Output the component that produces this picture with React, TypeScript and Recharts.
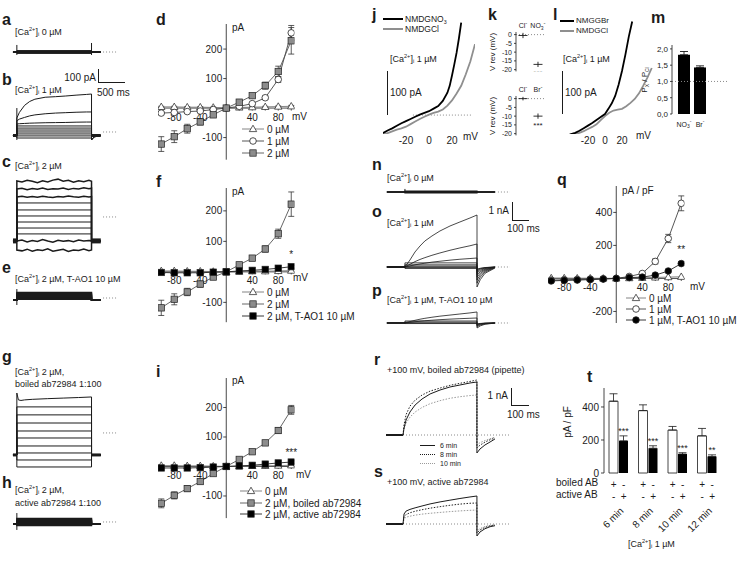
import React from 'react'
import {
  LineChart,
  Line,
  XAxis,
  YAxis,
  ReferenceLine,
  ReferenceDot,
  ErrorBar,
  BarChart,
  Bar,
  LabelList,
} from 'recharts'

const INK = '#1b1b1b'
const FONT = '"Liberation Sans", Arial, Helvetica, sans-serif'

// ---------- I-V curves (mV / pA) ----------
const mV = [-100, -80, -60, -40, -20, 0, 20, 40, 60, 80, 100]

const d0 = [4, 4, 3, 3, 2, 0, 2, 3, 4, 5, 6]
const d0Err = [2, 2, 2, 2, 1, 0, 1, 2, 2, 2, 3]
const d1 = [-17, -15, -12, -10, -5, 0, 6, 15, 35, 97, 255]
const d1Err = [4, 4, 3, 3, 2, 0, 2, 4, 6, 10, 25]
const d2 = [-122, -97, -70, -47, -23, 0, 20, 42, 76, 124, 228]
const d2Err = [25, 20, 15, 10, 6, 0, 4, 6, 12, 18, 45]

const f0 = [3, 3, 2, 2, 1, 0, 1, 2, 2, 3, 4]
const f2 = [-118, -90, -66, -40, -17, 0, 23, 45, 75, 125, 222]
const f2Err = [25, 18, 12, 10, 6, 0, 4, 6, 10, 15, 40]
const fTao = [-2, -3, -3, -3, -1, 0, 3, 5, 8, 12, 17]
const fTaoErr = [3, 3, 3, 3, 2, 0, 2, 2, 3, 4, 5]

const i0 = [3, 3, 2, 2, 1, 0, 1, 2, 2, 3, 4]
const iBoiled = [-125, -98, -75, -51, -24, 0, 24, 50, 80, 122, 192]
const iBoiledErr = [15, 12, 10, 8, 5, 0, 4, 5, 8, 10, 15]
const iActive = [-5, -5, -5, -4, -2, 0, 2, 4, 8, 12, 15]
const iActiveErr = [3, 3, 3, 2, 2, 0, 2, 2, 3, 3, 4]

// q is in pA / pF
const q0 = [2, 2, 1, 1, 0, 0, 2, 4, 6, 8, 10]
const q1 = [-10, -8, -6, -4, -2, 0, 12, 30, 103, 242, 455]
const q1Err = [4, 4, 3, 3, 2, 0, 4, 8, 15, 25, 45]
const qTao = [-15, -12, -10, -7, -4, 0, 5, 8, 20, 45, 90]
const qTaoErr = [3, 3, 3, 3, 2, 0, 3, 4, 6, 8, 12]

// ---------- ramps j / l (mV, pA) ----------
const jNo3Mv = [-40, -36, -32, -28, -24, -20, -16, -12, -8, -4, 0, 4, 8, 12, 16, 18, 20, 22, 24, 26, 28]
const jNo3Pa = [-42, -36, -31, -25, -19, -14, -9, -4, 1, 5, 9, 15, 21, 33, 52, 68, 92, 118, 145, 178, 215]
const jClMv = [-40, -36, -32, -28, -24, -20, -16, -12, -8, -4, 0, 4, 8, 12, 16, 20, 24, 28, 32, 36, 40]
const jClPa = [-46, -42, -38, -34, -31, -27, -21, -15, -9, -4, 1, 5, 8, 13, 22, 34, 50, 68, 95, 125, 165]
const lBrMv = [-44, -40, -35, -30, -25, -20, -15, -10, -5, 0, 4, 8, 12, 16, 20, 24, 28, 32]
const lBrPa = [-50, -47, -44, -39, -33, -27, -21, -14, -7, 0, 12, 25, 42, 68, 100, 138, 180, 215]
const lClMv = [-36, -30, -25, -20, -15, -10, -5, 0, 5, 10, 15, 20, 25, 30, 35, 40, 45, 50, 55]
const lClPa = [-46, -44, -40, -35, -30, -24, -14, -5, 3, 8, 10, 12, 18, 26, 35, 48, 66, 85, 107]

// ---------- k: reversal potentials ----------
const kTopIons = ['Cl', 'NO3']
const kTopVrev = [-0.5, -17]
const kTopErr = [1.5, 1.5]
const kBotIons = ['Cl', 'Br']
const kBotVrev = [0, -10]
const kBotErr = [1, 1.5]
const kStars = ['', '***']

// ---------- m: permeability ratios ----------
const mIons = ['NO3', 'Br']
const mRatio = [1.82, 1.43]
const mRatioErr = [0.1, 0.05]

// ---------- t: current density vs time ----------
const tTimes = ['6 min', '8 min', '10 min', '12 min']
const tBoiled = [435, 378, 260, 225]
const tBoiledErr = [45, 35, 22, 45]
const tActive = [195, 150, 115, 100]
const tActiveErr = [30, 15, 8, 10]
const tStars = ['***', '***', '***', '**']

// ---------- current traces, left column (ms, pA) ----------
const L_PRE = -75
const L_OFF = 1450
const L_POST = 1630
const L_DOTS = [1674, 1965]
const L_XDOM = [-230, 2100]

const aLevels = [10, 6, 3, 0, -3, -6, -10]
const aOn = [-21, 50]
const aOff = [-21, 64]

const bHold = -25
const bGrid = [0, 50, 150, 250, 350, 550, 750, 950, 1150, 1350, 1450]
const b1 = [100, 140, 190, 218, 234, 248, 252, 257, 263, 268, 271]
const b2 = [80, 92, 104, 115, 122, 130, 135, 138, 141, 143, 143]
const b3 = [57, 59, 61, 63, 64, 66, 67, 68, 70, 71, 71]
const bFlat = [43, 28, 14, 0, -14, -28, -43]
const bTailT = [1450, 1500, 1630]
const bTail = [-57, -35, -25]
const bOn = [-57, 171]

const cHold = -171
const cGrid = [0, 100, 200, 300, 400, 500, 600, 700, 800, 900, 1000, 1100, 1200, 1300, 1400, 1450]
const c1 = [257, 250, 262, 255, 245, 258, 250, 263, 270, 255, 262, 248, 258, 252, 262, 255]
const c2 = [200, 205, 195, 203, 198, 207, 196, 202, 199, 206, 197, 204, 200, 208, 201, 205]
const c3 = [143, 147, 140, 146, 141, 148, 143, 139, 146, 142, 149, 144, 141, 147, 143, 146]
const c10 = [-171, -165, -178, -168, -175, -162, -172, -180, -166, -174, -169, -177, -164, -172, -168, -170]
const c11 = [-236, -242, -230, -245, -234, -240, -228, -244, -237, -231, -246, -236, -240, -229, -241, -236]
const cFlat = [100, 50, 7, -36, -79, -121]

const eHold = -14
const eLevels = [40, 32, 24, 16, 9, 3, -3, -9]
const eOn = [-57, 64]

const gHold = -157
const gGrid = [0, 30, 80, 150, 300, 600, 900, 1200, 1450]
const g1 = [285, 236, 232, 236, 240, 245, 249, 253, 257]
const gFlat = [186, 129, 71, 14, -36, -93, -143, -193, -243]

const hHold = -14
const hLevels = [26, 18, 10, 3, -4, -11, -18, -25]
const hOn = [-57, 64]

// ---------- current traces n / o / p (ms, pA) ----------
const R_PRE = -115
const R_OFF = 459
const R_POST = 573
const R_DOTS = [573, 669]
const R_XDOM = [-127, 701]

const nLevels = [50, 25, 0, -25, -50]
const nOn = [-50, 170]

const oGrid = [0, 32, 64, 96, 127, 172, 223, 287, 350, 414, 459]
const o1 = [0, 389, 834, 1168, 1446, 1724, 2002, 2280, 2502, 2724, 2891]
const o2 = [0, 150, 300, 420, 520, 650, 780, 930, 1060, 1180, 1279]
const o3 = [0, 60, 120, 170, 210, 270, 320, 380, 430, 470, 500]
const oFlat = [230, 120, 50, 0, -40, -80]
const oTailT = [459, 480, 510, 573]
const o1Tail = [-1112, -700, -350, -60]
const o2Tail = [-900, -560, -280, -40]
const o3Tail = [-720, -440, -220, -30]
const oFlatTails = [
  [-560, -340, -170, -20],
  [-430, -260, -130, -15],
  [-320, -190, -90, -10],
  [-230, -130, -60, -5],
  [-160, -90, -40, 0],
  [-120, -70, -30, 0],
]

const p1 = [0, 80, 150, 210, 260, 320, 380, 440, 500, 560, 612]
const p2 = [0, 35, 70, 100, 125, 155, 185, 215, 240, 262, 278]
const pFlat = [111, 50, 0, -30]
const p1Tail = [-278, -160, -70, -5]
const p2Tail = [-200, -110, -50, 0]
const pFlatTails = [
  [-150, -80, -30, 0],
  [-100, -50, -20, 0],
  [-70, -35, -10, 0],
  [-50, -25, -10, 0],
]

// ---------- r / s (ms, pA) ----------
const S_PRE = -100
const S_DOTS = [0, 629]
const S_XDOM = [-106, 659]
const sGrid = [0, 6, 18, 41, 71, 112, 159, 218, 276, 335, 394, 435]
const sTailT = [435, 453, 482, 512, 541]
const r6 = [0, 412, 882, 1353, 1764, 2117, 2411, 2646, 2822, 2940, 3058, 3116]
const r8 = [0, 600, 1200, 1700, 2050, 2350, 2580, 2760, 2920, 3040, 3150, 3234]
const r10 = [0, 350, 700, 1050, 1350, 1620, 1840, 2020, 2160, 2250, 2320, 2352]
const r6Tail = [-1058, -823, -588, -412, -235]
const r8Tail = [-760, -600, -420, -280, -180]
const r10Tail = [-590, -450, -330, -220, -120]
const s6 = [0, 588, 760, 860, 950, 1060, 1180, 1300, 1400, 1500, 1590, 1646]
const s8 = [0, 420, 560, 660, 750, 840, 930, 1020, 1100, 1170, 1220, 1235]
const s10 = [0, 300, 400, 460, 520, 580, 630, 680, 730, 770, 805, 823]
const s6Tail = [-705, -470, -280, -160, -100]
const s8Tail = [-530, -350, -200, -110, -60]
const s10Tail = [-410, -270, -150, -80, -40]

// ---------------------------------------------------------------------------

type Pt = number[]
type Trace = { pts: Pt[]; color?: string; dash?: string; w?: number }

const stepPts = (hold: number, level: number, pre: number, off: number, post: number): Pt[] => [
  [pre, hold],
  [0, hold],
  [0, level],
  [off, level],
  [off, hold],
  [post, hold],
]

const gridPts = (hold: number, pre: number, grid: number[], vals: number[], tailT: number[], tail: number[]): Pt[] => [
  [pre, hold],
  [0, hold],
  ...grid.map((t, i) => [t, vals[i]]),
  ...tailT.map((t, i) => [t, tail[i]]),
]

const vline = (t: number, span: number[]): Trace => ({ pts: [[t, span[0]], [t, span[1]]] })

function T({ x, y, s = 9, a = 'left', b = false, children, c = INK, style = {} }: any) {
  const tx = a === 'left' ? '0' : a === 'center' ? '-50%' : '-100%'
  return (
    <div
      style={{
        position: 'absolute',
        left: x,
        top: y,
        transform: `translate(${tx}, -50%)`,
        fontSize: s,
        fontWeight: b ? 700 : 400,
        color: c,
        whiteSpace: 'nowrap',
        lineHeight: 1,
        ...style,
      }}
    >
      {children}
    </div>
  )
}

const supStyle = { fontSize: '0.62em', verticalAlign: '0.55em', lineHeight: 0 }
const subStyle = { fontSize: '0.62em', verticalAlign: '-0.35em', lineHeight: 0 }
const Ca = () => (
  <>
    [Ca<span style={supStyle}>2+</span>]<span style={subStyle}>i</span>
  </>
)

function ScaleBar({ x, y, w, h }: any) {
  return (
    <div
      style={{
        position: 'absolute',
        left: x,
        top: y,
        width: w,
        height: h,
        borderLeft: `1px solid ${INK}`,
        borderBottom: `1px solid ${INK}`,
      }}
    />
  )
}

function HLine({ x, y, w, color = INK, dash = false, lw = 1 }: any) {
  return (
    <div
      style={{
        position: 'absolute',
        left: x,
        top: y - lw / 2,
        width: w,
        height: 0,
        borderTop: `${lw}px ${dash ? 'dotted' : 'solid'} ${color}`,
      }}
    />
  )
}

// ---------- traces ----------
function TracePanel({ left, top, width, height, xDomain, yDomain, traces, dots }: any) {
  return (
    <div style={{ position: 'absolute', left, top }}>
      <LineChart width={width} height={height} margin={{ top: 0, right: 0, bottom: 0, left: 0 }}>
        <XAxis type="number" dataKey="t" domain={xDomain} hide allowDataOverflow />
        <YAxis type="number" domain={yDomain} hide allowDataOverflow />
        {dots && (
          <ReferenceLine
            segment={[
              { x: dots[0], y: 0 },
              { x: dots[1], y: 0 },
            ]}
            stroke="#8a8a8a"
            strokeDasharray="1 2"
          />
        )}
        {traces.map((tr: Trace, i: number) => (
          <Line
            key={i}
            data={tr.pts.map(([t, v]) => ({ t, v }))}
            dataKey="v"
            stroke={tr.color ?? INK}
            strokeWidth={tr.w ?? 1}
            strokeDasharray={tr.dash}
            dot={false}
            activeDot={false}
            isAnimationActive={false}
          />
        ))}
      </LineChart>
    </div>
  )
}

// ---------- I-V ----------
type Mk = 'tri' | 'circ' | 'sq'
function drawMarker(mk: Mk, fill: string, cx: number, cy: number, key: any) {
  if (cx == null || cy == null || isNaN(cx) || isNaN(cy)) return <g key={key} />
  if (mk === 'tri')
    return (
      <path
        key={key}
        d={`M${cx},${cy - 3.8}L${cx + 3.7},${cy + 2.6}L${cx - 3.7},${cy + 2.6}Z`}
        fill={fill}
        stroke="#333"
        strokeWidth={0.8}
      />
    )
  if (mk === 'circ') return <circle key={key} cx={cx} cy={cy} r={3.3} fill={fill} stroke="#222" strokeWidth={0.8} />
  return <rect key={key} x={cx - 3.2} y={cy - 3.2} width={6.4} height={6.4} fill={fill} stroke="#222" strokeWidth={0.7} />
}

type IVSeries = { vals: number[]; errs?: number[]; mk: Mk; fill: string; line: string }

function IVPanel({ left, top, height, yDomain, yTicks, series, star }: any) {
  const width = 136.5
  return (
    <div style={{ position: 'absolute', left, top }}>
      <LineChart width={width} height={height} margin={{ top: 0, right: 0, bottom: 0, left: 0 }}>
        <XAxis type="number" dataKey="mv" domain={[-105, 105]} hide allowDataOverflow />
        <YAxis type="number" domain={yDomain} hide allowDataOverflow />
        <ReferenceLine x={0} stroke={INK} strokeWidth={0.8} />
        <ReferenceLine y={0} stroke={INK} strokeWidth={0.8} />
        {mV
          .filter((v) => v !== 0)
          .map((v) => (
            <ReferenceDot
              key={'x' + v}
              x={v}
              y={0}
              shape={(p: any) => (
                <g>
                  <line x1={p.cx} x2={p.cx} y1={p.cy} y2={p.cy + 2.5} stroke={INK} strokeWidth={0.8} />
                  {Math.abs(v) % 40 === 0 && (
                    <text x={p.cx} y={p.cy + 9} textAnchor="middle" dominantBaseline="central" fontSize={10} fill={INK}>
                      {v}
                    </text>
                  )}
                </g>
              )}
            />
          ))}
        {yTicks.map((v: number) => (
          <ReferenceDot
            key={'y' + v}
            x={0}
            y={v}
            shape={(p: any) => (
              <g>
                <line x1={p.cx - 3} x2={p.cx} y1={p.cy} y2={p.cy} stroke={INK} strokeWidth={0.8} />
                <text x={p.cx - 4} y={p.cy} textAnchor="end" dominantBaseline="central" fontSize={10} fill={INK}>
                  {v}
                </text>
              </g>
            )}
          />
        ))}
        {series.map((s: IVSeries, k: number) => (
          <Line
            key={k}
            data={mV.map((m, j) => ({ mv: m, v: s.vals[j], e: s.errs ? s.errs[j] : 0 }))}
            dataKey="v"
            stroke={s.line}
            strokeWidth={0.9}
            isAnimationActive={false}
            activeDot={false}
            dot={(p: any) => drawMarker(s.mk, s.fill, p.cx, p.cy, p.index)}
          >
            {s.errs && <ErrorBar dataKey="e" width={3} stroke="#333" strokeWidth={0.8} />}
          </Line>
        ))}
        {star && (
          <ReferenceDot
            x={100}
            y={star.y}
            shape={(p: any) => (
              <text x={p.cx} y={p.cy - star.dy} textAnchor="middle" dominantBaseline="central" fontSize={10} fill={INK}>
                {star.text}
              </text>
            )}
          />
        )}
      </LineChart>
    </div>
  )
}

function LegendRow({ x, y, mk, fill, line, label, w = 22 }: any) {
  return (
    <div
      style={{
        position: 'absolute',
        left: x,
        top: y - 6,
        height: 12,
        display: 'flex',
        alignItems: 'center',
        fontSize: 10,
        color: INK,
        whiteSpace: 'nowrap',
      }}
    >
      <svg width={w} height={12}>
        <line x1={0} x2={w} y1={6} y2={6} stroke={line} strokeWidth={0.9} />
        {drawMarker(mk, fill, w / 2, 6, 0)}
      </svg>
      <span style={{ marginLeft: 3 }}>{label}</span>
    </div>
  )
}

const TRI: any = { mk: 'tri', fill: '#fff', line: '#777' }
const CIRC: any = { mk: 'circ', fill: '#fff', line: '#444' }
const SQG: any = { mk: 'sq', fill: '#8c8c8c', line: '#555' }
const SQB: any = { mk: 'sq', fill: '#000', line: '#222' }
const DOTB: any = { mk: 'circ', fill: '#000', line: '#222' }

// ---------- ramps ----------
function RampPanel({ left, top, width, xDomain, yDomain, curves, dots }: any) {
  return (
    <div style={{ position: 'absolute', left, top }}>
      <LineChart width={width} height={130} margin={{ top: 0, right: 0, bottom: 0, left: 0 }}>
        <XAxis
          type="number"
          dataKey="mv"
          domain={xDomain}
          allowDataOverflow
          ticks={[-20, 0, 20]}
          interval={0}
          axisLine={false}
          tickLine={false}
          tickSize={0}
          height={10}
          tick={(p: any) => (
            <text x={p.x} y={p.y + 4} textAnchor="middle" dominantBaseline="central" fontSize={10} fill={INK}>
              {p.payload.value}
            </text>
          )}
        />
        <YAxis type="number" domain={yDomain} hide allowDataOverflow />
        <ReferenceLine
          segment={[
            { x: dots[0], y: 0 },
            { x: dots[1], y: 0 },
          ]}
          stroke="#8a8a8a"
          strokeDasharray="1 2"
        />
        {curves.map((c: any, i: number) => (
          <Line
            key={i}
            data={c.mv.map((m: number, j: number) => ({ mv: m, v: c.pa[j] }))}
            dataKey="v"
            stroke={c.color}
            strokeWidth={1.8}
            dot={false}
            activeDot={false}
            isAnimationActive={false}
          />
        ))}
      </LineChart>
    </div>
  )
}

// ---------- k ----------
function KPanel({ top, ions, vrev, errs }: any) {
  const data = ions.map((ion: string, i: number) => ({ ion, v: vrev[i], e: errs[i], star: kStars[i] }))
  return (
    <div style={{ position: 'absolute', left: 485, top }}>
      <LineChart width={60} height={49.4} data={data} margin={{ top: 0, right: 0, bottom: 0, left: 0 }}>
        <XAxis
          dataKey="ion"
          orientation="top"
          height={10}
          padding={{ left: 7, right: 7 }}
          axisLine={false}
          tickLine={false}
          tickSize={0}
          interval={0}
          tick={(p: any) => (
            <text x={p.x} y={p.y - 4} textAnchor="middle" dominantBaseline="central" fontSize={7} fill={INK}>
              {p.payload.value === 'NO3' ? (
                <>
                  NO<tspan fontSize={5} dy={2}>3</tspan>
                  <tspan fontSize={6} dy={-5}>-</tspan>
                </>
              ) : (
                <>
                  {p.payload.value}
                  <tspan fontSize={6} dy={-3}>-</tspan>
                </>
              )}
            </text>
          )}
        />
        <YAxis
          width={31}
          domain={[-21, 1.5]}
          ticks={[0, -5, -10, -15, -20]}
          interval={0}
          tickSize={2}
          tick={{ fontSize: 7, fill: INK }}
          axisLine={{ stroke: INK, strokeWidth: 0.8 }}
          tickLine={{ stroke: INK, strokeWidth: 0.8 }}
          allowDataOverflow
        />
        <ReferenceLine y={0} stroke="#8a8a8a" strokeDasharray="1 2" />
        <Line
          dataKey="v"
          stroke="none"
          isAnimationActive={false}
          activeDot={false}
          dot={(p: any) => (
            <g key={p.index}>
              <line x1={p.cx - 4.5} x2={p.cx + 4.5} y1={p.cy} y2={p.cy} stroke={INK} strokeWidth={0.9} />
              {p.payload.star && (
                <text x={p.cx} y={p.cy + 9} textAnchor="middle" dominantBaseline="central" fontSize={8} fill={INK}>
                  {p.payload.star}
                </text>
              )}
            </g>
          )}
        >
          <ErrorBar dataKey="e" width={0} stroke={INK} strokeWidth={0.9} />
        </Line>
      </LineChart>
    </div>
  )
}

// ---------- m ----------
function MPanel() {
  const data = mIons.map((ion, i) => ({ ion, r: mRatio[i], e: [0, mRatioErr[i]] }))
  return (
    <div style={{ position: 'absolute', left: 633, top: 40 }}>
      <BarChart width={94} height={88} data={data} margin={{ top: 5, right: 0, bottom: 0, left: 0 }} barSize={12}>
        <XAxis
          dataKey="ion"
          padding={{ left: 4, right: 19 }}
          axisLine={false}
          tickLine={false}
          tickSize={0}
          height={14}
          interval={0}
          tick={(p: any) => (
            <text x={p.x} y={p.y + 8} textAnchor="middle" dominantBaseline="central" fontSize={7} fill={INK}>
              {p.payload.value === 'NO3' ? (
                <>
                  NO<tspan fontSize={5} dy={2}>3</tspan>
                  <tspan fontSize={5} dy={-5}>-</tspan>
                </>
              ) : (
                <>
                  Br<tspan fontSize={5} dy={-3}>-</tspan>
                </>
              )}
            </text>
          )}
        />
        <YAxis
          width={39}
          domain={[0, 2.12]}
          ticks={[0, 0.5, 1, 1.5, 2]}
          interval={0}
          tickFormatter={(v: number) => v.toFixed(1).replace('.', ',')}
          tick={{ fontSize: 8, fill: INK }}
          tickSize={2}
          axisLine={{ stroke: INK, strokeWidth: 0.8 }}
          tickLine={{ stroke: INK, strokeWidth: 0.8 }}
        />
        <ReferenceLine y={1} stroke="#8a8a8a" strokeDasharray="1 2" />
        <Bar dataKey="r" fill="#000" isAnimationActive={false}>
          <ErrorBar dataKey="e" width={4} stroke={INK} strokeWidth={0.9} />
        </Bar>
      </BarChart>
    </div>
  )
}

// ---------- t ----------
const T_PX_PER_UNIT = 85 / 515
function TPanel() {
  const data = tTimes.map((cat, i) => ({
    cat,
    boiled: tBoiled[i],
    boiledErr: [0, tBoiledErr[i]],
    active: tActive[i],
    activeErr: [0, tActiveErr[i]],
    star: tStars[i],
  }))
  return (
    <div style={{ position: 'absolute', left: 555, top: 383 }}>
      <BarChart width={170} height={147} data={data} margin={{ top: 5, right: 3, bottom: 0, left: 0 }} barSize={9} barGap={1}>
        <XAxis
          dataKey="cat"
          height={57}
          axisLine={false}
          tickLine={false}
          tickSize={0}
          interval={0}
          tick={(p: any) => (
            <g fontSize={10} fill={INK}>
              <text x={p.x - 5} y={p.y + 9} textAnchor="middle" dominantBaseline="central" fill={INK}>+</text>
              <text x={p.x + 5} y={p.y + 9} textAnchor="middle" dominantBaseline="central" fill={INK}>-</text>
              <text x={p.x - 5} y={p.y + 21} textAnchor="middle" dominantBaseline="central" fill={INK}>-</text>
              <text x={p.x + 5} y={p.y + 21} textAnchor="middle" dominantBaseline="central" fill={INK}>+</text>
              <text
                transform={`translate(${p.x + 3},${p.y + 34}) rotate(-45)`}
                textAnchor="end"
                dominantBaseline="central"
                fontSize={10}
                fill={INK}
              >
                {p.payload.value}
              </text>
            </g>
          )}
        />
        <YAxis
          width={49}
          domain={[0, 515]}
          ticks={[0, 200, 400]}
          tickSize={3}
          tick={{ fontSize: 10, fill: INK }}
          axisLine={{ stroke: INK, strokeWidth: 0.8 }}
          tickLine={{ stroke: INK, strokeWidth: 0.8 }}
        />
        <Bar dataKey="boiled" fill="#fff" stroke={INK} strokeWidth={0.8} isAnimationActive={false}>
          <ErrorBar dataKey="boiledErr" width={4} stroke={INK} strokeWidth={0.8} />
        </Bar>
        <Bar dataKey="active" fill="#000" isAnimationActive={false}>
          <ErrorBar dataKey="activeErr" width={4} stroke={INK} strokeWidth={0.8} />
          <LabelList
            dataKey="star"
            content={(p: any) => (
              <text
                x={p.x + p.width / 2}
                y={p.y - tActiveErr[p.index] * T_PX_PER_UNIT - 5}
                textAnchor="middle"
                dominantBaseline="central"
                fontSize={9}
                fill={INK}
              >
                {p.value}
              </text>
            )}
          />
        </Bar>
      </BarChart>
    </div>
  )
}

export default function App() {
  // left column traces
  const aTraces: Trace[] = [
    ...aLevels.map((l) => ({ pts: stepPts(0, l, L_PRE, L_OFF, L_POST) })),
    vline(0, aOn),
    vline(L_OFF, aOff),
  ]
  const bTraces: Trace[] = [
    { pts: gridPts(bHold, L_PRE, bGrid, b1, bTailT, bTail) },
    { pts: gridPts(bHold, L_PRE, bGrid, b2, bTailT, bTail) },
    { pts: gridPts(bHold, L_PRE, bGrid, b3, bTailT, bTail) },
    ...bFlat.map((l) => ({ pts: stepPts(bHold, l, L_PRE, L_OFF, L_POST) })),
    { pts: [[L_PRE, bHold], [0, bHold]], w: 3 },
    { pts: [[L_OFF, bHold], [L_POST, bHold]], w: 3 },
    vline(0, bOn),
  ]
  const cTraces: Trace[] = [
    ...[c1, c2, c3, c10, c11].map((vals) => ({ pts: gridPts(cHold, L_PRE, cGrid, vals, [L_OFF, L_POST], [cHold, cHold]), w: 1.5 })),
    ...cFlat.map((l) => ({ pts: stepPts(cHold, l, L_PRE, L_OFF, L_POST) })),
    { pts: [[L_PRE, cHold], [0, cHold]], w: 5 },
    { pts: [[L_OFF, cHold], [L_POST, cHold]], w: 5 },
  ]
  const eTraces: Trace[] = [
    ...eLevels.map((l) => ({ pts: stepPts(eHold, l, L_PRE, L_OFF, L_POST), w: 1.4 })),
    vline(0, eOn),
  ]
  const gTraces: Trace[] = [
    { pts: gridPts(gHold, L_PRE, gGrid, g1, [L_OFF, L_POST], [gHold, gHold]) },
    ...gFlat.map((l) => ({ pts: stepPts(gHold, l, L_PRE, L_OFF, L_POST) })),
    { pts: [[L_PRE, gHold], [0, gHold]], w: 3 },
    { pts: [[L_OFF, gHold], [L_POST, gHold]], w: 3 },
  ]
  const hTraces: Trace[] = [
    ...hLevels.map((l) => ({ pts: stepPts(hHold, l, L_PRE, L_OFF, L_POST), w: 1.4 })),
    vline(0, hOn),
  ]

  // n / o / p
  const nTraces: Trace[] = [
    ...nLevels.map((l) => ({ pts: stepPts(0, l, R_PRE, R_OFF, R_POST), w: 1.2 })),
    vline(0, nOn),
  ]
  const oTraces: Trace[] = [
    { pts: gridPts(0, R_PRE, oGrid, o1, oTailT, o1Tail), w: 0.8 },
    { pts: gridPts(0, R_PRE, oGrid, o2, oTailT, o2Tail), w: 0.8 },
    { pts: gridPts(0, R_PRE, oGrid, o3, oTailT, o3Tail), w: 0.8 },
    ...oFlat.map((l, i) => ({
      pts: [[R_PRE, 0], [0, 0], [0, l], [R_OFF, l], ...oTailT.map((t, j) => [t, oFlatTails[i][j]])],
      w: 0.8,
    })),
  ]
  const pTraces: Trace[] = [
    { pts: gridPts(0, R_PRE, oGrid, p1, oTailT, p1Tail), w: 0.8 },
    { pts: gridPts(0, R_PRE, oGrid, p2, oTailT, p2Tail), w: 0.8 },
    ...pFlat.map((l, i) => ({
      pts: [[R_PRE, 0], [0, 0], [0, l], [R_OFF, l], ...oTailT.map((t, j) => [t, pFlatTails[i][j]])],
      w: 0.8,
    })),
  ]

  // r / s
  const rTraces: Trace[] = [
    { pts: [[S_PRE, 0], [0, 0]], w: 2 },
    { pts: [[0, 0], ...sGrid.map((t, i) => [t, r10[i]]), ...sTailT.map((t, i) => [t, r10Tail[i]])], color: '#9a9a9a', dash: '1.5 1.5' },
    { pts: [[0, 0], ...sGrid.map((t, i) => [t, r8[i]]), ...sTailT.map((t, i) => [t, r8Tail[i]])], color: '#222', dash: '1.5 1.5' },
    { pts: [[0, 0], ...sGrid.map((t, i) => [t, r6[i]]), ...sTailT.map((t, i) => [t, r6Tail[i]])], color: INK },
  ]
  const sTraces: Trace[] = [
    { pts: [[S_PRE, 0], [0, 0]], w: 2 },
    { pts: [[0, 0], ...sGrid.map((t, i) => [t, s10[i]]), ...sTailT.map((t, i) => [t, s10Tail[i]])], color: '#9a9a9a', dash: '1.5 1.5' },
    { pts: [[0, 0], ...sGrid.map((t, i) => [t, s8[i]]), ...sTailT.map((t, i) => [t, s8Tail[i]])], color: '#222', dash: '1.5 1.5' },
    { pts: [[0, 0], ...sGrid.map((t, i) => [t, s6[i]]), ...sTailT.map((t, i) => [t, s6Tail[i]])], color: INK },
  ]

  const letter = (ch: string, x: number, y: number) => (
    <T x={x} y={y} s={16} b>
      {ch}
    </T>
  )

  return (
    <div
      style={{
        position: 'absolute',
        left: 0,
        top: 0,
        width: 739,
        height: 561,
        background: '#fff',
        fontFamily: FONT,
        color: INK,
        overflow: 'hidden',
      }}
    >
      <style>{'.recharts-surface{overflow:visible}'}</style>

      {/* ---------- left column ---------- */}
      {letter('a', 2, 20)}
      <T x={15} y={32}>
        <Ca /> 0 µM
      </T>
      <TracePanel left={5} top={42} width={120} height={20} xDomain={L_XDOM} yDomain={[-71, 71]} traces={aTraces} dots={L_DOTS} />
      <T x={96} y={78} s={10} a="right">
        100 pA
      </T>
      <ScaleBar x={98} y={69} w={26} h={13} />
      <T x={97} y={93} s={10}>
        500 ms
      </T>

      {letter('b', 2, 80)}
      <T x={15} y={90}>
        <Ca /> 1 µM
      </T>
      <TracePanel left={5} top={88} width={120} height={58} xDomain={L_XDOM} yDomain={[-100, 314]} traces={bTraces} dots={L_DOTS} />

      {letter('c', 2, 162)}
      <T x={15} y={166}>
        <Ca /> 2 µM
      </T>
      <TracePanel left={5} top={172} width={120} height={86} xDomain={L_XDOM} yDomain={[-293, 321]} traces={cTraces} dots={L_DOTS} />

      {letter('e', 2, 268)}
      <T x={15} y={279}>
        <Ca /> 2 µM, T-AO1 10 µM
      </T>
      <TracePanel left={5} top={285} width={120} height={20} xDomain={L_XDOM} yDomain={[-50, 93]} traces={eTraces} dots={L_DOTS} />

      {letter('g', 2, 357)}
      <T x={15} y={372}>
        <Ca /> 2 µM,
      </T>
      <T x={15} y={384}>
        boiled ab72984 1:100
      </T>
      <TracePanel left={5} top={388} width={120} height={85} xDomain={L_XDOM} yDomain={[-286, 321]} traces={gTraces} dots={L_DOTS} />

      {letter('h', 2, 483)}
      <T x={15} y={490}>
        <Ca /> 2 µM,
      </T>
      <T x={15} y={503}>
        active ab72984 1:100
      </T>
      <TracePanel left={5} top={508} width={120} height={26} xDomain={L_XDOM} yDomain={[-86, 100]} traces={hTraces} dots={L_DOTS} />

      {/* ---------- d / f / i ---------- */}
      {letter('d', 156, 20)}
      <IVPanel
        left={157.75}
        top={23.9}
        height={135.7}
        yDomain={[-175, 285]}
        yTicks={[200, 100, -100]}
        series={[
          { vals: d0, errs: d0Err, ...TRI },
          { vals: d1, errs: d1Err, ...CIRC },
          { vals: d2, errs: d2Err, ...SQG },
        ]}
      />
      <T x={232} y={28} s={10}>
        pA
      </T>
      <T x={292} y={117} s={10}>
        mV
      </T>
      <LegendRow x={242} y={129} {...TRI} label="0 µM" />
      <LegendRow x={242} y={141} {...CIRC} label="1 µM" />
      <LegendRow x={242} y={153} {...SQG} label="2 µM" />

      {letter('f', 156, 182)}
      <IVPanel
        left={157.75}
        top={188}
        height={134.2}
        yDomain={[-165, 275]}
        yTicks={[200, 100, -100]}
        series={[
          { vals: f0, ...TRI },
          { vals: f2, errs: f2Err, ...SQG },
          { vals: fTao, errs: fTaoErr, ...SQB },
        ]}
        star={{ y: fTao[10], dy: 12, text: '*' }}
      />
      <T x={232} y={192} s={10}>
        pA
      </T>
      <T x={293} y={278} s={10}>
        mV
      </T>
      <LegendRow x={242} y={292} {...TRI} label="0 µM" />
      <LegendRow x={242} y={304} {...SQG} label="2 µM" />
      <LegendRow x={242} y={316} {...SQB} label="2 µM, T-AO1 10 µM" />

      {letter('i', 156, 372)}
      <IVPanel
        left={157.75}
        top={377.5}
        height={140.1}
        yDomain={[-175, 300]}
        yTicks={[200, 100, -100]}
        series={[
          { vals: i0, ...TRI },
          { vals: iBoiled, errs: iBoiledErr, ...SQG },
          { vals: iActive, errs: iActiveErr, ...SQB },
        ]}
        star={{ y: iActive[10], dy: 10, text: '***' }}
      />
      <T x={232} y={381} s={10}>
        pA
      </T>
      <T x={296} y={475} s={10}>
        mV
      </T>
      <LegendRow x={240} y={491} {...TRI} label="0 µM" />
      <LegendRow x={240} y={503} {...SQG} label="2 µM, boiled ab72984" />
      <LegendRow x={240} y={514} {...SQB} label="2 µM, active ab72984" />

      {/* ---------- j / k / l / m ---------- */}
      {letter('j', 372, 15)}
      <RampPanel
        left={383}
        top={14}
        width={92}
        xDomain={[-40, 40]}
        yDomain={[-44, 235]}
        dots={[-14, 38]}
        curves={[
          { mv: jClMv, pa: jClPa, color: '#8f8f8f' },
          { mv: jNo3Mv, pa: jNo3Pa, color: '#000' },
        ]}
      />
      <HLine x={383} y={19} w={20} lw={2} color="#000" />
      <T x={405} y={19} s={8.5}>
        NMDGNO<span style={subStyle}>3</span>
      </T>
      <HLine x={383} y={29} w={20} lw={2} color="#8f8f8f" />
      <T x={405} y={29} s={8.5}>
        NMDGCl
      </T>
      <T x={390} y={59}>
        <Ca /> 1 µM
      </T>
      <div style={{ position: 'absolute', left: 387, top: 71, width: 0, height: 44, borderLeft: `1px solid ${INK}` }} />
      <T x={390} y={93} s={10}>
        100 pA
      </T>
      <T x={463} y={137} s={10}>
        mV
      </T>

      {letter('k', 488, 15)}
      <KPanel top={22.4} ions={kTopIons} vrev={kTopVrev} errs={kTopErr} />
      <KPanel top={86.4} ions={kBotIons} vrev={kBotVrev} errs={kBotErr} />
      <T x={493} y={52} s={8} a="center" style={{ transform: 'translate(-50%, -50%) rotate(-90deg)' }}>
        V rev (mV)
      </T>
      <T x={493} y={116} s={8} a="center" style={{ transform: 'translate(-50%, -50%) rotate(-90deg)' }}>
        V rev (mV)
      </T>

      {letter('l', 553, 15)}
      <RampPanel
        left={565}
        top={14}
        width={90}
        xDomain={[-47, 58.8]}
        yDomain={[-46.5, 232.6]}
        dots={[-50, 55]}
        curves={[
          { mv: lClMv, pa: lClPa, color: '#8f8f8f' },
          { mv: lBrMv, pa: lBrPa, color: '#000' },
        ]}
      />
      <HLine x={560} y={21} w={14} lw={2} color="#000" />
      <T x={576} y={21} s={8}>
        NMGGBr
      </T>
      <HLine x={560} y={31} w={14} lw={2} color="#8f8f8f" />
      <T x={576} y={31} s={8}>
        NMDGCl
      </T>
      <T x={563} y={59}>
        <Ca /> 1 µM
      </T>
      <div style={{ position: 'absolute', left: 562, top: 71, width: 0, height: 43, borderLeft: `1px solid ${INK}` }} />
      <T x={565} y={93} s={10}>
        100 pA
      </T>
      <T x={636} y={136} s={10}>
        mV
      </T>

      {letter('m', 651, 18)}
      <MPanel />
      <T x={645} y={80} s={8} a="center" style={{ transform: 'translate(-50%, -50%) rotate(-90deg)' }}>
        P<span style={subStyle}>X</span> / P<span style={subStyle}>Cl</span>
      </T>

      {/* ---------- n / o / p ---------- */}
      {letter('n', 372, 165)}
      <T x={387} y={178}>
        <Ca /> 0 µM
      </T>
      <TracePanel left={385} top={182} width={130} height={20} xDomain={R_XDOM} yDomain={[-556, 556]} traces={nTraces} dots={R_DOTS} />

      {letter('o', 372, 212)}
      <T x={387} y={223}>
        <Ca /> 1 µM
      </T>
      <TracePanel left={385} top={205} width={130} height={90} xDomain={R_XDOM} yDomain={[-1557, 3447]} traces={oTraces} dots={R_DOTS} />
      <T x={509} y={211} s={10} a="right">
        1 nA
      </T>
      <ScaleBar x={512} y={202} w={16} h={18} />
      <T x={507} y={229} s={10}>
        100 ms
      </T>

      {letter('p', 372, 291)}
      <T x={387} y={300}>
        <Ca /> 1 µM, T-AO1 10 µM
      </T>
      <TracePanel left={385} top={305} width={130} height={30} xDomain={R_XDOM} yDomain={[-667, 1000]} traces={pTraces} dots={R_DOTS} />

      {/* ---------- q ---------- */}
      {letter('q', 557, 180)}
      <IVPanel
        left={547.75}
        top={185.6}
        height={137}
        yDomain={[-270, 560]}
        yTicks={[400, 200, -200]}
        series={[
          { vals: q0, ...TRI },
          { vals: q1, errs: q1Err, ...CIRC },
          { vals: qTao, errs: qTaoErr, ...DOTB },
        ]}
        star={{ y: qTao[10], dy: 14, text: '**' }}
      />
      <T x={622} y={191} s={10}>
        pA / pF
      </T>
      <T x={690} y={287} s={10}>
        mV
      </T>
      <LegendRow x={626} y={298} {...TRI} label="0 µM" w={20} />
      <LegendRow x={626} y={309} {...CIRC} label="1 µM" w={20} />
      <LegendRow x={626} y={320} {...DOTB} label="1 µM, T-AO1 10 µM" w={20} />

      {/* ---------- r / s ---------- */}
      {letter('r', 374, 360)}
      <T x={387} y={370}>
        +100 mV, boiled ab72984 (pipette)
      </T>
      <TracePanel left={385} top={375} width={130} height={85} xDomain={S_XDOM} yDomain={[-1470, 3528]} traces={rTraces} dots={S_DOTS} />
      <T x={508} y={396} s={10} a="right">
        1 nA
      </T>
      <ScaleBar x={511} y={388} w={17} h={17} />
      <T x={507} y={415} s={10}>
        100 ms
      </T>
      <HLine x={420} y={445} w={15} />
      <T x={440} y={445} s={7}>
        6 min
      </T>
      <HLine x={420} y={454} w={15} dash />
      <T x={440} y={454} s={7}>
        8 min
      </T>
      <HLine x={420} y={463} w={15} dash color="#9a9a9a" />
      <T x={440} y={463} s={7}>
        10 min
      </T>

      {letter('s', 374, 472)}
      <T x={387} y={482}>
        +100 mV, active ab72984
      </T>
      <TracePanel left={385} top={488} width={130} height={55} xDomain={S_XDOM} yDomain={[-1117, 2117]} traces={sTraces} dots={S_DOTS} />

      {/* ---------- t ---------- */}
      {letter('t', 587, 377)}
      <TPanel />
      <T x={568} y={422} s={10} a="center" style={{ transform: 'translate(-50%, -50%) rotate(-90deg)' }}>
        pA / pF
      </T>
      <T x={556} y={483} s={10}>
        boiled AB
      </T>
      <T x={556} y={495} s={10}>
        active AB
      </T>
      <T x={628} y={544}>
        <Ca /> 1 µM
      </T>
    </div>
  )
}
